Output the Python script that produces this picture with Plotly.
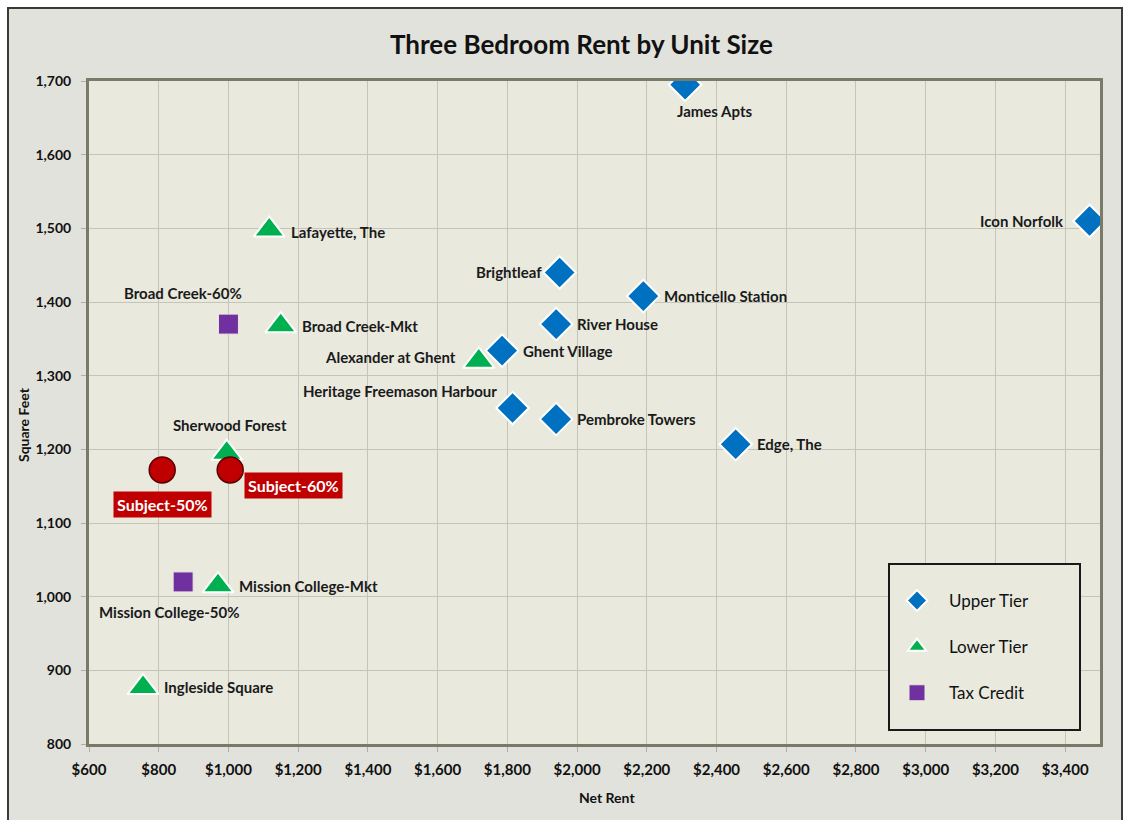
import plotly.graph_objects as go

# Upper tier comparables
upper_names = ["James Apts", "Icon Norfolk", "Brightleaf", "Monticello Station", "River House",
               "Ghent Village", "Heritage Freemason Harbour", "Pembroke Towers", "Edge, The"]
upper_rent = [2310, 3470, 1950, 2190, 1940, 1785, 1815, 1940, 2455]
upper_sqft = [1695, 1510, 1440, 1408, 1370, 1334, 1256, 1241, 1207]

# Lower tier comparables
lower_names = ["Lafayette, The", "Broad Creek-Mkt", "Alexander at Ghent", "Sherwood Forest",
               "Mission College-Mkt", "Ingleside Square"]
lower_rent = [1117, 1150, 1718, 995, 970, 755]
lower_sqft = [1498, 1368, 1320, 1195, 1015, 877]

# Tax credit comparables
tax_names = ["Broad Creek-60%", "Mission College-50%"]
tax_rent = [1000, 870]
tax_sqft = [1370, 1020]

# Subject
subject_names = ["Subject-50%", "Subject-60%"]
subject_rent = [810, 1005]
subject_sqft = [1172, 1172]

# label placement: (xanchor, xshift, yshift)
label_pos = {
    "James Apts": ("center", 29, -26),
    "Icon Norfolk": ("right", -24, 0),
    "Brightleaf": ("right", -16, 1),
    "Heritage Freemason Harbour": ("right", -14, 17),
    "Alexander at Ghent": ("right", -21, 4),
    "Sherwood Forest": ("center", 3, 28),
    "Broad Creek-60%": ("center", -45, 31),
    "Mission College-50%": ("center", -14, -30),
    "Lafayette, The": ("left", 20, -2),
}

FONT = "Lato"
BLUE = "#0070c0"
GREEN = "#00b050"
PURPLE = "#7030a0"
RED = "#c00000"
PLOT_BG = "#e9e9de"

# pixel -> paper helpers (plot area is 89..1100 x, 81..744 y)
def px(v):
    return (v - 89) / 1011


def py(v):
    return (744 - v) / 663


fig = go.Figure()

fig.add_trace(go.Scatter(
    x=upper_rent, y=upper_sqft, mode="markers", name="Upper Tier",
    marker=dict(symbol="diamond", size=25, color=BLUE, line=dict(color="white", width=2)),
    legendgroup="a",
))
fig.add_trace(go.Scatter(
    x=lower_rent, y=lower_sqft, mode="markers", name="Lower Tier",
    marker=dict(symbol="triangle-up", size=27, color=GREEN, line=dict(color="white", width=2)),
    legendgroup="b",
))
fig.add_trace(go.Scatter(
    x=tax_rent, y=tax_sqft, mode="markers", name="Tax Credit",
    marker=dict(symbol="square", size=20, color=PURPLE, line=dict(color=PLOT_BG, width=1)),
    legendgroup="c",
))
fig.add_trace(go.Scatter(
    x=subject_rent, y=subject_sqft, mode="markers", name="Subject", showlegend=False,
    marker=dict(symbol="circle", size=26, color=RED, line=dict(color="#5a0000", width=1.5)),
))

annotations = []
for names, xs, ys in [(upper_names, upper_rent, upper_sqft),
                      (lower_names, lower_rent, lower_sqft),
                      (tax_names, tax_rent, tax_sqft)]:
    for n, xv, yv in zip(names, xs, ys):
        anchor, dx, dy = label_pos.get(n, ("left", 19, 0))
        annotations.append(dict(
            x=xv, y=yv, xref="x", yref="y", text=n, showarrow=False,
            xanchor=anchor, yanchor="middle", xshift=dx, yshift=dy,
            font=dict(family=FONT, size=15, color="#1a1a1a", weight="bold"),
        ))

subject_pos = [("center", 0, -35), ("left", 14, -16)]
for n, xv, yv, (anchor, dx, dy) in zip(subject_names, subject_rent, subject_sqft, subject_pos):
    annotations.append(dict(
        x=xv, y=yv, xref="x", yref="y", text=n, showarrow=False,
        xanchor=anchor, yanchor="middle", xshift=dx, yshift=dy,
        bgcolor=RED, borderpad=3,
        font=dict(family=FONT, size=16, color="white", weight="bold"),
    ))

# chart title and axis titles
annotations.append(dict(text="Three Bedroom Rent by Unit Size", xref="paper", yref="paper",
                        x=px(581), y=py(44), showarrow=False,
                        xanchor="center", yanchor="middle",
                        font=dict(family=FONT, size=26, color="#111", weight="bold")))
annotations.append(dict(text="Net Rent", xref="paper", yref="paper",
                        x=px(607), y=py(797), showarrow=False,
                        xanchor="center", yanchor="middle",
                        font=dict(family=FONT, size=14, color="#111", weight="bold")))
annotations.append(dict(text="Square Feet", xref="paper", yref="paper",
                        x=px(24), y=py(425), showarrow=False,
                        xanchor="center", yanchor="middle", textangle=-90,
                        font=dict(family=FONT, size=14, color="#111", weight="bold")))

shapes = [
    # outer chart frame
    dict(type="rect", xref="paper", yref="paper", layer="below",
         x0=px(8), x1=px(1122), y0=py(840), y1=py(8),
         fillcolor="#e2e2dc", line=dict(color="#3a3a3a", width=2)),
    # plot area
    dict(type="rect", xref="paper", yref="paper", layer="below",
         x0=0, x1=1, y0=0, y1=1, fillcolor=PLOT_BG, line=dict(width=0)),
    # legend box
    dict(type="rect", xref="paper", yref="paper", layer="above",
         x0=px(889), x1=px(1080), y0=py(730), y1=py(564),
         fillcolor=PLOT_BG, line=dict(color="#1a1a1a", width=2)),
]

fig.update_layout(
    width=1130, height=820,
    margin=dict(l=89, r=30, t=81, b=76),
    paper_bgcolor="white",
    plot_bgcolor=PLOT_BG,
    font=dict(family=FONT, color="#111"),
    showlegend=True,
    legend=dict(
        x=px(885), y=py(583), xanchor="left", yanchor="top",
        bgcolor="rgba(0,0,0,0)", borderwidth=0,
        font=dict(family=FONT, size=17, color="#111"),
        tracegroupgap=21, itemsizing="trace", itemwidth=54,
    ),
    annotations=annotations,
    shapes=shapes,
)

axis_style = dict(
    showgrid=True, gridcolor="#c4c4b8", gridwidth=1, zeroline=False,
    showline=True, linecolor="#7a7a68", linewidth=3, mirror=True,
    ticks="outside", ticklen=5, tickcolor="#b0b0a5",
)
fig.update_xaxes(range=[600, 3500], dtick=200, tick0=600, tickprefix="$", tickformat=",",
                 ticklabelstandoff=5,
                 tickfont=dict(family=FONT, size=15, color="#111", weight="bold"),
                 **axis_style)
fig.update_yaxes(range=[800, 1700], dtick=100, tick0=800, tickformat=",",
                 ticklabelstandoff=7,
                 tickfont=dict(family=FONT, size=14, color="#111", weight="bold"),
                 **axis_style)

fig.write_html("out.html", config={"displayModeBar": False},
               post_script="document.body.style.margin='0px';")
